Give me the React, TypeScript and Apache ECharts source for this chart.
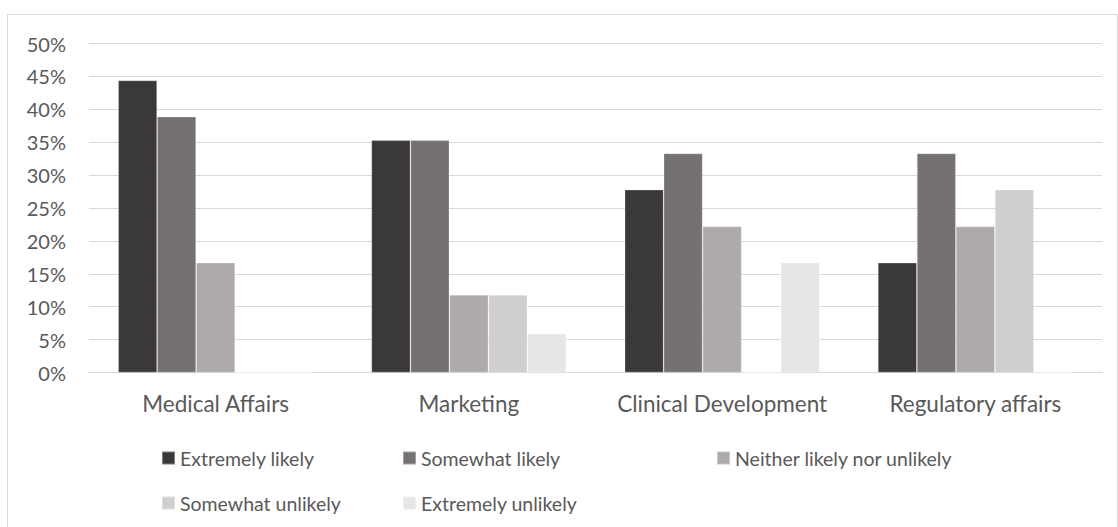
import React, { useEffect, useRef } from "react";
import * as echarts from "echarts";

const categories = ["Medical Affairs", "Marketing", "Clinical Development", "Regulatory affairs"];
const seriesNames = [
  "Extremely likely",
  "Somewhat likely",
  "Neither likely nor unlikely",
  "Somewhat unlikely",
  "Extremely unlikely",
];
const extremelyLikely = [44.4, 35.3, 27.8, 16.7];
const somewhatLikely = [38.9, 35.3, 33.3, 33.3];
const neither = [16.7, 11.8, 22.2, 22.2];
const somewhatUnlikely = [0, 11.8, 0, 27.8];
const extremelyUnlikely = [0, 5.9, 16.7, 0];
const yTicks = [0, 50, 5];

const colors = ["#3B3838", "#757171", "#AEAAAA", "#D0CECE", "#E7E6E6"];
const FONT = "Lato";
const TEXT = "#595959";

export default function App() {
  const ref = useRef<HTMLDivElement>(null);
  useEffect(() => {
    if (!ref.current) return;
    const chart = echarts.init(ref.current, undefined, { renderer: "svg" });
    const values = [extremelyLikely, somewhatLikely, neither, somewhatUnlikely, extremelyUnlikely];
    const legendPos = [
      { left: 161, top: 448 },
      { left: 402, top: 448 },
      { left: 716, top: 448 },
      { left: 161, top: 493 },
      { left: 402, top: 493 },
    ];
    chart.setOption({
      animation: false,
      backgroundColor: "#ffffff",
      textStyle: { fontFamily: FONT },
      grid: { left: 89, right: 16, top: 43.5, bottom: 154.5, containLabel: false },
      graphic: [
        {
          type: "rect",
          shape: { x: 7.5, y: 14.5, width: 1110, height: 540 },
          style: { fill: "none", stroke: "#d9d9d9", lineWidth: 1 },
          silent: true,
        },
      ],
      legend: seriesNames.map((n, i) => ({
        data: [n],
        left: legendPos[i].left,
        top: legendPos[i].top,
        padding: 0,
        icon: "rect",
        itemWidth: 13,
        itemHeight: 13,
        textStyle: { color: TEXT, fontSize: 19.5, fontFamily: FONT, lineHeight: 20 },
        selectedMode: false,
      })),
      xAxis: {
        type: "category",
        data: categories,
        axisLine: { lineStyle: { color: "#d9d9d9", width: 1 } },
        axisTick: { show: false },
        axisLabel: { color: TEXT, fontSize: 22.5, fontFamily: FONT, margin: 19, interval: 0, hideOverlap: false },
      },
      yAxis: {
        type: "value",
        min: yTicks[0],
        max: yTicks[1],
        interval: yTicks[2],
        axisLine: { show: false },
        axisTick: { show: false },
        splitLine: { lineStyle: { color: "#d9d9d9", width: 1 } },
        axisLabel: { color: TEXT, fontSize: 20, fontFamily: FONT, margin: 23, formatter: "{value}%" },
      },
      series: seriesNames.map((n, i) => ({
        name: n,
        type: "bar",
        data: values[i],
        barGap: "0%",
        barCategoryGap: "23%",
        itemStyle: { color: colors[i], borderColor: "rgba(255,255,255,0.35)", borderWidth: 0.75 },
      })),
    });
    return () => chart.dispose();
  }, []);
  return (
    <div
      ref={ref}
      style={{ position: "fixed", left: 0, top: 0, width: 1118, height: 527, background: "#fff" }}
    />
  );
}
